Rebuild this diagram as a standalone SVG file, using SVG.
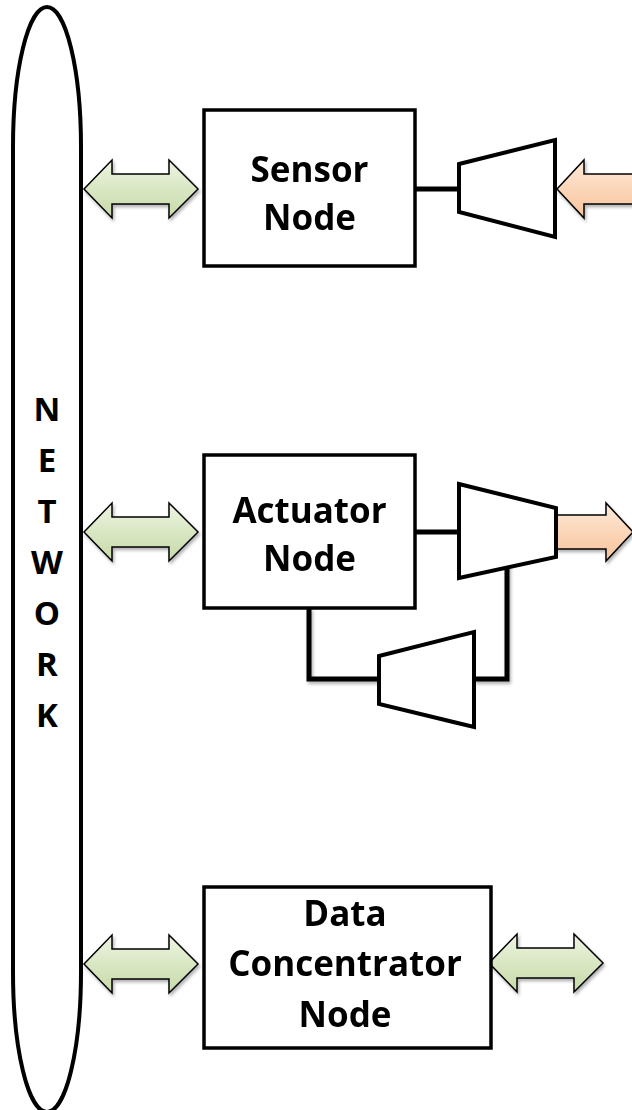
<svg xmlns="http://www.w3.org/2000/svg" xmlns:xlink="http://www.w3.org/1999/xlink" width="632" height="1110" viewBox="0 0 632 1110">
  <style>
    .box { fill: #ffffff; stroke: #000000; stroke-width: 3.5; }
    .trap { fill: #ffffff; stroke: #000000; stroke-width: 4; stroke-linejoin: miter; }
    .wire { fill: none; stroke: #000000; stroke-width: 5; stroke-linejoin: miter; }
    .lbl { font-family: "Open Sans", "Liberation Sans", sans-serif; font-weight: bold; font-size: 35px; fill: #000000; text-anchor: middle; }
    .net { font-size: 33px; }
    .green { fill: url(#gGreen); stroke: #000000; stroke-width: 1.5; stroke-linejoin: miter; }
    .orange { fill: url(#gOrange); stroke: #000000; stroke-width: 1.5; stroke-linejoin: miter; }
  </style>
  <defs>
    <linearGradient id="gGreen" x1="0" y1="0" x2="0" y2="1">
      <stop offset="0" stop-color="#eef4e3"/>
      <stop offset="0.5" stop-color="#d9e7c3"/>
      <stop offset="1" stop-color="#c8daa8"/>
    </linearGradient>
    <linearGradient id="gOrange" x1="0" y1="0" x2="0" y2="1">
      <stop offset="0" stop-color="#fdeadb"/>
      <stop offset="0.5" stop-color="#fbd6b8"/>
      <stop offset="1" stop-color="#f8c39c"/>
    </linearGradient>
    <filter id="shadow" x="-20%" y="-20%" width="140%" height="150%">
      <feDropShadow dx="1.5" dy="2.5" stdDeviation="1.8" flood-color="#000000" flood-opacity="0.3"/>
    </filter>
    <!-- double-headed link arrow, centred on its origin -->
    <path id="dblArrow" class="green" d="M-57,0 L-29,-29 L-29,-15 L28,-15 L28,-29 L57,0 L28,29 L28,15 L-29,15 L-29,29 Z"/>
  </defs>

  <!-- network bus -->
  <g id="network">
    <rect x="13" y="7" width="68" height="1105" rx="34" ry="140" fill="#ffffff" stroke="#000000" stroke-width="4"/>
    <text class="lbl net" x="47" y="421">N</text>
    <text class="lbl net" x="47" y="472">E</text>
    <text class="lbl net" x="47" y="523">T</text>
    <text class="lbl net" x="47" y="574">W</text>
    <text class="lbl net" x="47" y="625">O</text>
    <text class="lbl net" x="47" y="676">R</text>
    <text class="lbl net" x="47" y="727">K</text>
  </g>

  <!-- wiring and signal arrows -->
  <g id="connectors">
    <!-- sensor node to its input transducer -->
    <line class="wire" x1="415" y1="189" x2="459" y2="189"/>
    <!-- actuator node to output driver -->
    <line class="wire" x1="415" y1="532" x2="459" y2="532"/>
    <!-- feedback loop -->
    <polyline class="wire" filter="url(#shadow)" points="309,608 309,679 380,679"/>
    <polyline class="wire" filter="url(#shadow)" points="474,679 507,679 507,560"/>

    <!-- links to the network -->
    <g filter="url(#shadow)">
      <use xlink:href="#dblArrow" x="141" y="189"/>
      <use xlink:href="#dblArrow" x="141" y="532"/>
      <use xlink:href="#dblArrow" x="141" y="964"/>
      <use xlink:href="#dblArrow" x="546" y="963"/>
    </g>

    <!-- physical input / output -->
    <g filter="url(#shadow)">
      <path class="orange" d="M557,189 L584,160 L584,174 L640,174 L640,204 L584,204 L584,218 Z"/>
      <path class="orange" d="M556,515 L606,515 L606,503 L633,532 L606,561 L606,549 L556,549 Z"/>
    </g>
  </g>

  <g id="sensor-node">
    <rect class="box" x="204" y="110" width="211" height="156"/>
    <text class="lbl" x="309.5" y="182">Sensor</text>
    <text class="lbl" x="309.5" y="230">Node</text>
  </g>

  <g id="sensor-transducer">
    <polygon class="trap" points="459,164 555,140 555,237 459,212"/>
  </g>

  <g id="actuator-node">
    <rect class="box" x="204" y="455" width="211" height="153"/>
    <text class="lbl" x="309.5" y="523">Actuator</text>
    <text class="lbl" x="309.5" y="571">Node</text>
  </g>

  <g id="actuator-driver">
    <polygon class="trap" points="459,484 556,508 556,557 459,578"/>
  </g>

  <g id="feedback-transducer">
    <polygon class="trap" points="379,656 474,632 474,727 379,704"/>
  </g>

  <g id="data-concentrator-node">
    <rect class="box" x="204" y="887" width="287" height="161"/>
    <text class="lbl" x="345" y="926">Data</text>
    <text class="lbl" x="345" y="976">Concentrator</text>
    <text class="lbl" x="345" y="1027">Node</text>
  </g>
</svg>
